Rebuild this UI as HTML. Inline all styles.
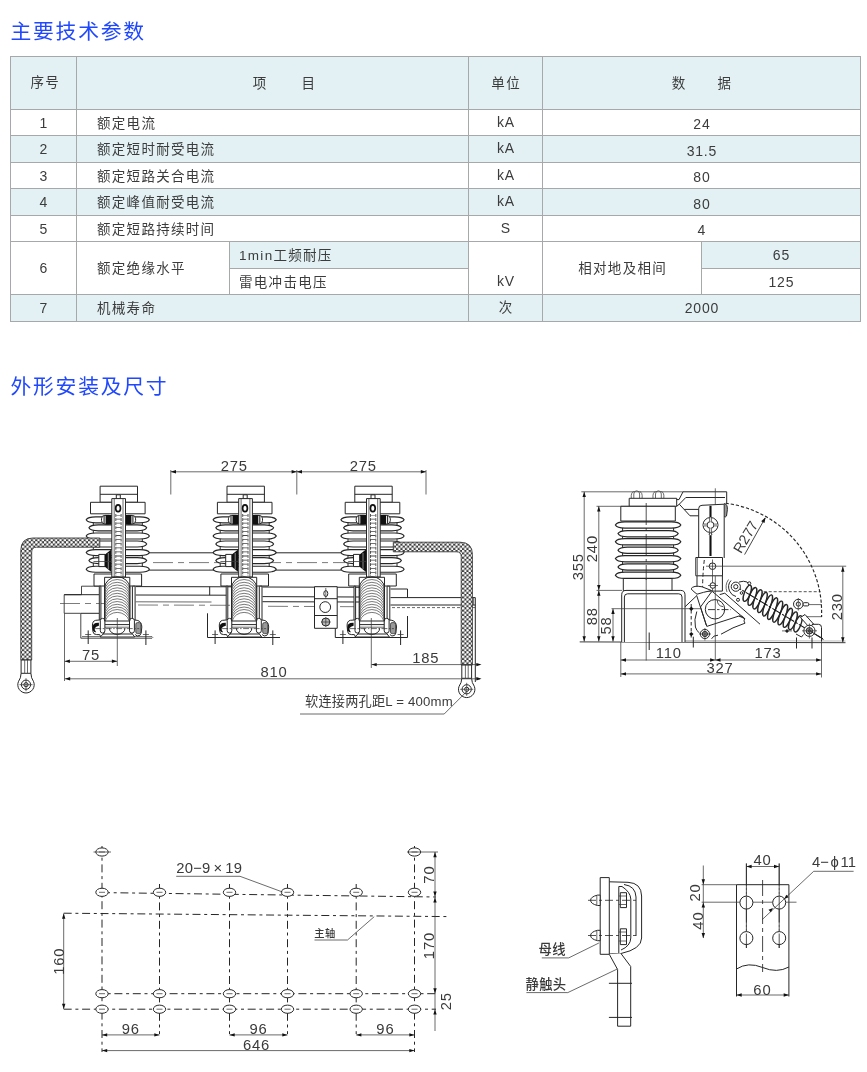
<!DOCTYPE html>
<html lang="zh-CN">
<head>
<meta charset="utf-8">
<title>主要技术参数</title>
<style>
html,body{margin:0;padding:0;background:#fff;}
body{width:867px;height:1072px;position:relative;overflow:hidden;font-family:"Liberation Sans","Noto Sans CJK SC",sans-serif;color:#3c3c3c;}
h2{position:absolute;margin:0;left:10.5px;font-size:20.8px;line-height:26px;font-weight:400;color:#2048ff;white-space:nowrap;letter-spacing:1.75px;}
#t1{top:18.5px;}
#t2{top:373.7px;}
.tbl{position:absolute;left:10px;top:56px;width:850px;height:266px;}
.c{position:absolute;box-sizing:border-box;border:1px solid #a6a8aa;font-size:13.5px;letter-spacing:1.3px;white-space:nowrap;display:flex;align-items:center;justify-content:center;font-weight:400;}
.c.b{background:#e3f1f4;}
.c.l{justify-content:flex-start;}
.c span{display:block;position:relative;}
.c span.t{margin-right:-1.3px;margin-top:-2px;}
.c span.n{margin-right:-0.8px;}
.n{font-size:14px;letter-spacing:0.8px;font-weight:400;}
svg{position:absolute;left:0;top:0;}
#sheet{position:absolute;left:0;top:0;width:867px;height:1072px;will-change:transform;}
</style>
</head>
<body>
<div id="sheet">
<h2 id="t1">主要技术参数</h2>
<div class="tbl">
<div class="c b" style="left:0px;top:0px;width:67px;height:54px;"><span class="t" style="top:-0.7px;left:1.2px">序号</span></div>
<div class="c b" style="left:66px;top:0px;width:393px;height:54px;"><span class="t" style="top:0px;left:11.3px"><b style="font-weight:inherit;word-spacing:28.9px">项 目</b></span></div>
<div class="c b" style="left:458px;top:0px;width:75px;height:54px;"><span class="t" style="top:0px;left:0px">单位</span></div>
<div class="c b" style="left:532px;top:0px;width:319px;height:54px;"><span class="t" style="top:0px;left:0px"><b style="font-weight:inherit;word-spacing:25.9px">数 据</b></span></div>
<div class="c" style="left:0px;top:53px;width:67px;height:27px;"><span class="n" style="top:0px;left:0px">1</span></div>
<div class="c l" style="left:66px;top:53px;width:393px;height:27px;padding-left:20px;"><span class="t" style="top:0px;left:0px">额定电流</span></div>
<div class="c" style="left:458px;top:53px;width:75px;height:27px;"><span class="n" style="top:-1px;left:0px">kA</span></div>
<div class="c" style="left:532px;top:53px;width:319px;height:27px;"><span class="n" style="top:1.5px;left:0px">24</span></div>
<div class="c b" style="left:0px;top:79px;width:67px;height:28px;"><span class="n" style="top:0px;left:0px">2</span></div>
<div class="c b l" style="left:66px;top:79px;width:393px;height:28px;padding-left:20px;"><span class="t" style="top:0px;left:0px">额定短时耐受电流</span></div>
<div class="c b" style="left:458px;top:79px;width:75px;height:28px;"><span class="n" style="top:-1px;left:0px">kA</span></div>
<div class="c b" style="left:532px;top:79px;width:319px;height:28px;"><span class="n" style="top:1.5px;left:0px">31.5</span></div>
<div class="c" style="left:0px;top:106px;width:67px;height:27px;"><span class="n" style="top:0px;left:0px">3</span></div>
<div class="c l" style="left:66px;top:106px;width:393px;height:27px;padding-left:20px;"><span class="t" style="top:0px;left:0px">额定短路关合电流</span></div>
<div class="c" style="left:458px;top:106px;width:75px;height:27px;"><span class="n" style="top:-1px;left:0px">kA</span></div>
<div class="c" style="left:532px;top:106px;width:319px;height:27px;"><span class="n" style="top:1.5px;left:0px">80</span></div>
<div class="c b" style="left:0px;top:132px;width:67px;height:28px;"><span class="n" style="top:0px;left:0px">4</span></div>
<div class="c b l" style="left:66px;top:132px;width:393px;height:28px;padding-left:20px;"><span class="t" style="top:0px;left:0px">额定峰值耐受电流</span></div>
<div class="c b" style="left:458px;top:132px;width:75px;height:28px;"><span class="n" style="top:-1px;left:0px">kA</span></div>
<div class="c b" style="left:532px;top:132px;width:319px;height:28px;"><span class="n" style="top:1.5px;left:0px">80</span></div>
<div class="c" style="left:0px;top:159px;width:67px;height:27px;"><span class="n" style="top:0px;left:0px">5</span></div>
<div class="c l" style="left:66px;top:159px;width:393px;height:27px;padding-left:20px;"><span class="t" style="top:0px;left:0px">额定短路持续时间</span></div>
<div class="c" style="left:458px;top:159px;width:75px;height:27px;"><span class="n" style="top:-1px;left:0px">S</span></div>
<div class="c" style="left:532px;top:159px;width:319px;height:27px;"><span class="n" style="top:1.5px;left:0px">4</span></div>
<div class="c" style="left:0px;top:185px;width:67px;height:54px;"><span class="n" style="top:0px;left:0px">6</span></div>
<div class="c l" style="left:66px;top:185px;width:154px;height:54px;padding-left:20px;"><span class="t" style="top:0px;left:0px">额定绝缘水平</span></div>
<div class="c b l" style="left:219px;top:185px;width:240px;height:28px;padding-left:9px;"><span class="t" style="top:0px;left:0px">1min工频耐压</span></div>
<div class="c l" style="left:219px;top:212px;width:240px;height:27px;padding-left:9px;"><span class="t" style="top:0px;left:0px">雷电冲击电压</span></div>
<div class="c" style="left:458px;top:185px;width:75px;height:54px;"><span class="n" style="top:13px;left:0px">kV</span></div>
<div class="c" style="left:532px;top:185px;width:160px;height:54px;"><span class="t" style="top:0px;left:0px">相对地及相间</span></div>
<div class="c b" style="left:691px;top:185px;width:160px;height:28px;"><span class="n" style="top:0px;left:0px">65</span></div>
<div class="c" style="left:691px;top:212px;width:160px;height:27px;"><span class="n" style="top:0px;left:0px">125</span></div>
<div class="c b" style="left:0px;top:238px;width:67px;height:28px;"><span class="n" style="top:0px;left:0px">7</span></div>
<div class="c b l" style="left:66px;top:238px;width:393px;height:28px;padding-left:20px;"><span class="t" style="top:0px;left:0px">机械寿命</span></div>
<div class="c b" style="left:458px;top:238px;width:75px;height:28px;"><span class="t" style="top:-1px;left:0px">次</span></div>
<div class="c b" style="left:532px;top:238px;width:319px;height:28px;"><span class="n" style="top:0px;left:0px">2000</span></div>
</div>
<h2 id="t2">外形安装及尺寸</h2>
<svg width="867" height="1072" viewBox="0 0 867 1072">
<style>
.k{fill:none;stroke:#262626;stroke-width:1;stroke-linecap:butt;stroke-linejoin:round}
.w{fill:#fff;stroke:#262626;stroke-width:1;stroke-linejoin:round}
.t{fill:none;stroke:#3a3a3a;stroke-width:0.75}
.d{fill:none;stroke:#444;stroke-width:0.7;stroke-dasharray:20 5 6 5}
.dd{fill:none;stroke:#444;stroke-width:0.8;stroke-dasharray:3 2}
.f{fill:#111;stroke:none}
text{font-family:"Liberation Sans","Noto Sans CJK SC",sans-serif;fill:#3a3a3a;font-size:14.8px;letter-spacing:0.8px;}
</style>
<defs>
<pattern id="braid" width="4.4" height="4.4" patternUnits="userSpaceOnUse">
<rect width="4.4" height="4.4" fill="#3d3d3d"/>
<circle cx="1.1" cy="1.1" r="1.28" fill="#fff"/>
<circle cx="3.3" cy="3.3" r="1.28" fill="#fff"/>
</pattern>
</defs>
<path class="k" d="M149 552.8L341 552.8"/>
<path class="k" d="M149 570.1L341 570.1"/>
<path class="d" d="M153 562.6L345 562.6"/>
<path class="k" d="M99 586.2L81.5 586.2L81.5 594.7L64.2 594.7L64.2 613.3L80.8 613.3L80.8 638.2L152 638.2" style="stroke-width:0.85"/>
<path class="t" d="M82 636.6L152 636.6Q153.6 637.4 152 638.2"/>
<path class="k" d="M64.2 594.7L99 594.7"/>
<path class="k" d="M81 613.3L99 613.3"/>
<path class="d" d="M60 603.5L104 603.5"/>
<path class="k" d="M135.8 586.6L232 586.8"/>
<path class="k" d="M135.8 595L227 595.2"/>
<path class="t" d="M135.8 601.8L211.5 602"/>
<path class="k" d="M209.7 586.7L209.7 595.2"/>
<path class="d" d="M138 605L232 605.3"/>
<path class="k" d="M262.5 587L359 587.3"/>
<path class="k" d="M262.5 596.6L359 597"/>
<path class="k" d="M262.5 601.7L359 602"/>
<path class="d" d="M268 606.3L354 606.7"/>
<path class="k" d="M390.5 589L407.5 589L407.5 597.6"/>
<path class="k" d="M390.5 597.6L475.3 597.6"/>
<path class="k" d="M390.5 605L475.3 605"/>
<path class="dd" d="M392 607.6L476 607.6"/>
<path class="k" d="M475.3 597.6L475.3 682"/>
<path class="t" d="M473.6 598L473.6 605"/>
<path class="k" d="M207.5 613.3L207.5 637.5L280 637.5"/>
<path class="k" d="M335.3 613.3L335.3 637.5L407.5 637.5L407.5 616"/>
<rect class="w" x="94" y="574" width="47.6" height="12"/><rect class="w" x="100.1" y="486.2" width="37.4" height="16.1"/><path class="k" d="M100.1 494.3L137.5 494.3"/><rect class="w" x="90.5" y="502.3" width="54.6" height="11.5"/><rect class="w" x="93.3" y="519.8" width="49" height="49.4"/><path class="w" d="M86.2 519.8Q87.7 516.8 95.7 516.8L139.9 516.8Q147.9 516.8 149.4 519.8Q147.9 522.8 139.9 522.8L95.7 522.8Q87.7 522.8 86.2 519.8Z" style="stroke-width:1.15"/><path class="w" d="M88.9 527.8Q90.4 524.8 98.4 524.8L137.2 524.8Q145.2 524.8 146.7 527.8Q145.2 530.8 137.2 530.8L98.4 530.8Q90.4 530.8 88.9 527.8Z" style="stroke-width:1.15"/><path class="w" d="M86.2 536Q87.7 533 95.7 533L139.9 533Q147.9 533 149.4 536Q147.9 539 139.9 539L95.7 539Q87.7 539 86.2 536Z" style="stroke-width:1.15"/><path class="w" d="M88.9 544Q90.4 541 98.4 541L137.2 541Q145.2 541 146.7 544Q145.2 547 137.2 547L98.4 547Q90.4 547 88.9 544Z" style="stroke-width:1.15"/><path class="w" d="M86.2 552.6Q87.7 549.6 95.7 549.6L139.9 549.6Q147.9 549.6 149.4 552.6Q147.9 555.6 139.9 555.6L95.7 555.6Q87.7 555.6 86.2 552.6Z" style="stroke-width:1.15"/><path class="w" d="M88.9 560.6Q90.4 557.6 98.4 557.6L137.2 557.6Q145.2 557.6 146.7 560.6Q145.2 563.6 137.2 563.6L98.4 563.6Q90.4 563.6 88.9 560.6Z" style="stroke-width:1.15"/><path class="w" d="M86.2 569.2Q87.7 566.2 95.7 566.2L139.9 566.2Q147.9 566.2 149.4 569.2Q147.9 572.2 139.9 572.2L95.7 572.2Q87.7 572.2 86.2 569.2Z" style="stroke-width:1.15"/><rect class="w" x="101.5" y="515.4" width="10.6" height="8.6" rx="3.4"/><rect class="w" x="125" y="515.4" width="10.6" height="8.6" rx="3.4"/><rect class="f" x="105.6" y="515" width="6.5" height="9.4"/><rect class="f" x="125" y="515" width="6.4" height="9.4"/><path class="k" d="M104.1 515.6L104.1 523.8" style="stroke-width:1.1"/><path class="k" d="M132.9 515.6L132.9 523.8" style="stroke-width:1.1"/><rect class="w" x="98.8" y="554.4" width="6.2" height="12.2"/><path class="f" d="M111.3 549.5L111.3 572L104.9 566.8L104.9 554.6Z"/><path class="k" d="M108.3 553L108.3 569" style="stroke:#fff;stroke-width:0.5"/><rect class="w" x="116.3" y="494.8" width="4" height="4.2"/><rect class="w" x="111.8" y="498.6" width="13.7" height="78.4"/><path class="t" d="M114.2 499L114.2 577"/><path class="t" d="M123 499L123 577"/><path class="k" d="M115.8 514L115.8 576" style="stroke-dasharray:2.9 1.2;stroke-width:0.8"/><path class="k" d="M121.1 514L121.1 576" style="stroke-dasharray:2.9 1.2;stroke-width:0.8"/><path class="k" d="M118.4 515L118.4 576" style="stroke-dasharray:0.8 3.3;stroke-width:4.6;stroke-dashoffset:0.4;stroke:#444"/><path class="t" d="M93.5 561.5L111.5 561.5"/><ellipse class="k" cx="118.1" cy="508.3" rx="2.4" ry="3.4" style="stroke:#111;stroke-width:1.7"/><rect class="w" x="99.3" y="586.2" width="1.6" height="34.8"/><rect class="w" x="132.4" y="586.2" width="2.7" height="34.8"/><path class="k" d="M104.6 586.2L104.6 621"/><path class="k" d="M129.8 586.2L129.8 621"/><path class="w" d="M104.2 619.6L95.7 620.3Q92.2 621 92.4 626L92.9 631.5Q93.2 634.6 96.7 634.6L99.7 634.6L100.7 636.8"/><path class="w" d="M130.2 619.6L137.2 620.3Q141.8 621.5 141.8 627L141.2 633Q140.5 636.3 137.2 636L135.2 634.5"/><rect class="k" x="135.8" y="622.6" width="5" height="11" rx="1.6" style="fill:#9a9a9a;stroke-width:0.7"/><path class="w" d="M104.2 620L104.2 633L100.2 637L134.7 637L130.2 631L130.2 620Z"/><path class="k" d="M104.2 624.6L130.2 624.6"/><path class="t" d="M104.2 627.2L130.2 627.2"/><path class="k" d="M102.7 634L132.2 634"/><path class="k" d="M109.4 628.2A7.8 6.2 0 0 0 125 628.2"/><rect class="w" x="100.3" y="618.4" width="4.6" height="14.6" rx="2.2"/><rect class="w" x="129.5" y="618.4" width="4.9" height="14.6" rx="2.2"/><path class="t" d="M95.2 628.6L139.2 628.6" style="stroke-dasharray:6 1.5 1.5 1.5"/><path class="f" d="M98.9 622.8Q92.2 622.5 92.6 628Q92.6 632.5 96.2 632.3Q94.2 630 94.8 628.3Q95.7 626.3 98.9 625.8Z"/><rect class="w" x="104.6" y="577.3" width="25.2" height="43.7"/><path class="k" d="M104.6 588.3A12.6 11.5 0 0 1 129.8 588.3" style="stroke-width:1"/><path class="k" d="M104.8 591A12.4 11.5 0 0 1 129.6 591" style="stroke-width:0.62"/><path class="k" d="M104.8 593.8A12.4 11.5 0 0 1 129.6 593.8" style="stroke-width:0.62"/><path class="k" d="M104.8 596.5A12.4 11.5 0 0 1 129.6 596.5" style="stroke-width:0.62"/><path class="k" d="M104.8 599.3A12.4 11.5 0 0 1 129.6 599.3" style="stroke-width:0.62"/><path class="k" d="M104.8 602A12.4 11.5 0 0 1 129.6 602" style="stroke-width:0.62"/><path class="k" d="M104.8 604.8A12.4 11.5 0 0 1 129.6 604.8" style="stroke-width:0.62"/><path class="k" d="M104.8 607.5A12.4 11.5 0 0 1 129.6 607.5" style="stroke-width:0.62"/><path class="k" d="M104.8 610.3A12.4 11.5 0 0 1 129.6 610.3" style="stroke-width:0.62"/><path class="k" d="M104.8 613A12.4 11.5 0 0 1 129.6 613" style="stroke-width:0.62"/><path class="k" d="M104.8 615.8A12.4 11.5 0 0 1 129.6 615.8" style="stroke-width:0.62"/><path class="k" d="M104.8 618.5A12.4 11.5 0 0 1 129.6 618.5" style="stroke-width:0.62"/><path class="k" d="M104.8 621A12.4 11.5 0 0 1 129.6 621" style="stroke-width:0.62"/><path class="k" d="M105.2 621A12.4 11.5 0 0 1 129.2 621" style="stroke-width:0.62"/><path class="k" d="M88.2 630.4L88.2 644"/><path class="k" d="M145.9 630.4L145.9 645"/><path class="t" d="M85.2 634.5L91.2 634.5"/><path class="t" d="M142.9 634.5L148.9 634.5"/>
<rect class="w" x="220.9" y="574" width="47.6" height="12"/><rect class="w" x="227" y="486.2" width="37.4" height="16.1"/><path class="k" d="M227 494.3L264.4 494.3"/><rect class="w" x="217.4" y="502.3" width="54.6" height="11.5"/><rect class="w" x="220.2" y="519.8" width="49" height="49.4"/><path class="w" d="M213.1 519.8Q214.6 516.8 222.6 516.8L266.8 516.8Q274.8 516.8 276.3 519.8Q274.8 522.8 266.8 522.8L222.6 522.8Q214.6 522.8 213.1 519.8Z" style="stroke-width:1.15"/><path class="w" d="M215.8 527.8Q217.3 524.8 225.3 524.8L264.1 524.8Q272.1 524.8 273.6 527.8Q272.1 530.8 264.1 530.8L225.3 530.8Q217.3 530.8 215.8 527.8Z" style="stroke-width:1.15"/><path class="w" d="M213.1 536Q214.6 533 222.6 533L266.8 533Q274.8 533 276.3 536Q274.8 539 266.8 539L222.6 539Q214.6 539 213.1 536Z" style="stroke-width:1.15"/><path class="w" d="M215.8 544Q217.3 541 225.3 541L264.1 541Q272.1 541 273.6 544Q272.1 547 264.1 547L225.3 547Q217.3 547 215.8 544Z" style="stroke-width:1.15"/><path class="w" d="M213.1 552.6Q214.6 549.6 222.6 549.6L266.8 549.6Q274.8 549.6 276.3 552.6Q274.8 555.6 266.8 555.6L222.6 555.6Q214.6 555.6 213.1 552.6Z" style="stroke-width:1.15"/><path class="w" d="M215.8 560.6Q217.3 557.6 225.3 557.6L264.1 557.6Q272.1 557.6 273.6 560.6Q272.1 563.6 264.1 563.6L225.3 563.6Q217.3 563.6 215.8 560.6Z" style="stroke-width:1.15"/><path class="w" d="M213.1 569.2Q214.6 566.2 222.6 566.2L266.8 566.2Q274.8 566.2 276.3 569.2Q274.8 572.2 266.8 572.2L222.6 572.2Q214.6 572.2 213.1 569.2Z" style="stroke-width:1.15"/><rect class="w" x="228.4" y="515.4" width="10.6" height="8.6" rx="3.4"/><rect class="w" x="251.9" y="515.4" width="10.6" height="8.6" rx="3.4"/><rect class="f" x="232.5" y="515" width="6.5" height="9.4"/><rect class="f" x="251.9" y="515" width="6.4" height="9.4"/><path class="k" d="M231 515.6L231 523.8" style="stroke-width:1.1"/><path class="k" d="M259.8 515.6L259.8 523.8" style="stroke-width:1.1"/><rect class="w" x="225.7" y="554.4" width="6.2" height="12.2"/><path class="f" d="M238.2 549.5L238.2 572L231.8 566.8L231.8 554.6Z"/><path class="k" d="M235.2 553L235.2 569" style="stroke:#fff;stroke-width:0.5"/><rect class="w" x="243.2" y="494.8" width="4" height="4.2"/><rect class="w" x="238.7" y="498.6" width="13.7" height="78.4"/><path class="t" d="M241.1 499L241.1 577"/><path class="t" d="M249.9 499L249.9 577"/><path class="k" d="M242.7 514L242.7 576" style="stroke-dasharray:2.9 1.2;stroke-width:0.8"/><path class="k" d="M248 514L248 576" style="stroke-dasharray:2.9 1.2;stroke-width:0.8"/><path class="k" d="M245.3 515L245.3 576" style="stroke-dasharray:0.8 3.3;stroke-width:4.6;stroke-dashoffset:0.4;stroke:#444"/><path class="t" d="M220.4 561.5L238.4 561.5"/><ellipse class="k" cx="245" cy="508.3" rx="2.4" ry="3.4" style="stroke:#111;stroke-width:1.7"/><rect class="w" x="226.2" y="586.2" width="1.6" height="34.8"/><rect class="w" x="259.3" y="586.2" width="2.7" height="34.8"/><path class="k" d="M231.5 586.2L231.5 621"/><path class="k" d="M256.7 586.2L256.7 621"/><path class="w" d="M231.1 619.6L222.6 620.3Q219.1 621 219.3 626L219.8 631.5Q220.1 634.6 223.6 634.6L226.6 634.6L227.6 636.8"/><path class="w" d="M257.1 619.6L264.1 620.3Q268.7 621.5 268.7 627L268.1 633Q267.4 636.3 264.1 636L262.1 634.5"/><rect class="k" x="262.7" y="622.6" width="5" height="11" rx="1.6" style="fill:#9a9a9a;stroke-width:0.7"/><path class="w" d="M231.1 620L231.1 633L227.1 637L261.6 637L257.1 631L257.1 620Z"/><path class="k" d="M231.1 624.6L257.1 624.6"/><path class="t" d="M231.1 627.2L257.1 627.2"/><path class="k" d="M229.6 634L259.1 634"/><path class="k" d="M236.3 628.2A7.8 6.2 0 0 0 251.9 628.2"/><rect class="w" x="227.2" y="618.4" width="4.6" height="14.6" rx="2.2"/><rect class="w" x="256.4" y="618.4" width="4.9" height="14.6" rx="2.2"/><path class="t" d="M222.1 628.6L266.1 628.6" style="stroke-dasharray:6 1.5 1.5 1.5"/><path class="f" d="M225.8 622.8Q219.1 622.5 219.5 628Q219.5 632.5 223.1 632.3Q221.1 630 221.7 628.3Q222.6 626.3 225.8 625.8Z"/><rect class="w" x="231.5" y="577.3" width="25.2" height="43.7"/><path class="k" d="M231.5 588.3A12.6 11.5 0 0 1 256.7 588.3" style="stroke-width:1"/><path class="k" d="M231.7 591A12.4 11.5 0 0 1 256.5 591" style="stroke-width:0.62"/><path class="k" d="M231.7 593.8A12.4 11.5 0 0 1 256.5 593.8" style="stroke-width:0.62"/><path class="k" d="M231.7 596.5A12.4 11.5 0 0 1 256.5 596.5" style="stroke-width:0.62"/><path class="k" d="M231.7 599.3A12.4 11.5 0 0 1 256.5 599.3" style="stroke-width:0.62"/><path class="k" d="M231.7 602A12.4 11.5 0 0 1 256.5 602" style="stroke-width:0.62"/><path class="k" d="M231.7 604.8A12.4 11.5 0 0 1 256.5 604.8" style="stroke-width:0.62"/><path class="k" d="M231.7 607.5A12.4 11.5 0 0 1 256.5 607.5" style="stroke-width:0.62"/><path class="k" d="M231.7 610.3A12.4 11.5 0 0 1 256.5 610.3" style="stroke-width:0.62"/><path class="k" d="M231.7 613A12.4 11.5 0 0 1 256.5 613" style="stroke-width:0.62"/><path class="k" d="M231.7 615.8A12.4 11.5 0 0 1 256.5 615.8" style="stroke-width:0.62"/><path class="k" d="M231.7 618.5A12.4 11.5 0 0 1 256.5 618.5" style="stroke-width:0.62"/><path class="k" d="M231.7 621A12.4 11.5 0 0 1 256.5 621" style="stroke-width:0.62"/><path class="k" d="M232.1 621A12.4 11.5 0 0 1 256.1 621" style="stroke-width:0.62"/><path class="k" d="M215.1 630.4L215.1 644"/><path class="k" d="M272.8 630.4L272.8 645"/><path class="t" d="M212.1 634.5L218.1 634.5"/><path class="t" d="M269.8 634.5L275.8 634.5"/>
<rect class="w" x="348.7" y="574" width="47.6" height="12"/><rect class="w" x="354.8" y="486.2" width="37.4" height="16.1"/><path class="k" d="M354.8 494.3L392.2 494.3"/><rect class="w" x="345.2" y="502.3" width="54.6" height="11.5"/><rect class="w" x="348" y="519.8" width="49" height="49.4"/><path class="w" d="M340.9 519.8Q342.4 516.8 350.4 516.8L394.6 516.8Q402.6 516.8 404.1 519.8Q402.6 522.8 394.6 522.8L350.4 522.8Q342.4 522.8 340.9 519.8Z" style="stroke-width:1.15"/><path class="w" d="M343.6 527.8Q345.1 524.8 353.1 524.8L391.9 524.8Q399.9 524.8 401.4 527.8Q399.9 530.8 391.9 530.8L353.1 530.8Q345.1 530.8 343.6 527.8Z" style="stroke-width:1.15"/><path class="w" d="M340.9 536Q342.4 533 350.4 533L394.6 533Q402.6 533 404.1 536Q402.6 539 394.6 539L350.4 539Q342.4 539 340.9 536Z" style="stroke-width:1.15"/><path class="w" d="M343.6 544Q345.1 541 353.1 541L391.9 541Q399.9 541 401.4 544Q399.9 547 391.9 547L353.1 547Q345.1 547 343.6 544Z" style="stroke-width:1.15"/><path class="w" d="M340.9 552.6Q342.4 549.6 350.4 549.6L394.6 549.6Q402.6 549.6 404.1 552.6Q402.6 555.6 394.6 555.6L350.4 555.6Q342.4 555.6 340.9 552.6Z" style="stroke-width:1.15"/><path class="w" d="M343.6 560.6Q345.1 557.6 353.1 557.6L391.9 557.6Q399.9 557.6 401.4 560.6Q399.9 563.6 391.9 563.6L353.1 563.6Q345.1 563.6 343.6 560.6Z" style="stroke-width:1.15"/><path class="w" d="M340.9 569.2Q342.4 566.2 350.4 566.2L394.6 566.2Q402.6 566.2 404.1 569.2Q402.6 572.2 394.6 572.2L350.4 572.2Q342.4 572.2 340.9 569.2Z" style="stroke-width:1.15"/><rect class="w" x="356.2" y="515.4" width="10.6" height="8.6" rx="3.4"/><rect class="w" x="379.7" y="515.4" width="10.6" height="8.6" rx="3.4"/><rect class="f" x="360.3" y="515" width="6.5" height="9.4"/><rect class="f" x="379.7" y="515" width="6.4" height="9.4"/><path class="k" d="M358.8 515.6L358.8 523.8" style="stroke-width:1.1"/><path class="k" d="M387.6 515.6L387.6 523.8" style="stroke-width:1.1"/><rect class="w" x="353.5" y="554.4" width="6.2" height="12.2"/><path class="f" d="M366 549.5L366 572L359.6 566.8L359.6 554.6Z"/><path class="k" d="M363 553L363 569" style="stroke:#fff;stroke-width:0.5"/><rect class="w" x="371" y="494.8" width="4" height="4.2"/><rect class="w" x="366.5" y="498.6" width="13.7" height="78.4"/><path class="t" d="M368.9 499L368.9 577"/><path class="t" d="M377.7 499L377.7 577"/><path class="k" d="M370.5 514L370.5 576" style="stroke-dasharray:2.9 1.2;stroke-width:0.8"/><path class="k" d="M375.8 514L375.8 576" style="stroke-dasharray:2.9 1.2;stroke-width:0.8"/><path class="k" d="M373.1 515L373.1 576" style="stroke-dasharray:0.8 3.3;stroke-width:4.6;stroke-dashoffset:0.4;stroke:#444"/><path class="t" d="M348.2 561.5L366.2 561.5"/><ellipse class="k" cx="372.8" cy="508.3" rx="2.4" ry="3.4" style="stroke:#111;stroke-width:1.7"/><rect class="w" x="354" y="586.2" width="1.6" height="34.8"/><rect class="w" x="387.1" y="586.2" width="2.7" height="34.8"/><path class="k" d="M359.3 586.2L359.3 621"/><path class="k" d="M384.5 586.2L384.5 621"/><path class="w" d="M358.9 619.6L350.4 620.3Q346.9 621 347.1 626L347.6 631.5Q347.9 634.6 351.4 634.6L354.4 634.6L355.4 636.8"/><path class="w" d="M384.9 619.6L391.9 620.3Q396.5 621.5 396.5 627L395.9 633Q395.2 636.3 391.9 636L389.9 634.5"/><rect class="k" x="390.5" y="622.6" width="5" height="11" rx="1.6" style="fill:#9a9a9a;stroke-width:0.7"/><path class="w" d="M358.9 620L358.9 633L354.9 637L389.4 637L384.9 631L384.9 620Z"/><path class="k" d="M358.9 624.6L384.9 624.6"/><path class="t" d="M358.9 627.2L384.9 627.2"/><path class="k" d="M357.4 634L386.9 634"/><path class="k" d="M364.1 628.2A7.8 6.2 0 0 0 379.7 628.2"/><rect class="w" x="355" y="618.4" width="4.6" height="14.6" rx="2.2"/><rect class="w" x="384.2" y="618.4" width="4.9" height="14.6" rx="2.2"/><path class="t" d="M349.9 628.6L393.9 628.6" style="stroke-dasharray:6 1.5 1.5 1.5"/><path class="f" d="M353.6 622.8Q346.9 622.5 347.3 628Q347.3 632.5 350.9 632.3Q348.9 630 349.5 628.3Q350.4 626.3 353.6 625.8Z"/><rect class="w" x="359.3" y="577.3" width="25.2" height="43.7"/><path class="k" d="M359.3 588.3A12.6 11.5 0 0 1 384.5 588.3" style="stroke-width:1"/><path class="k" d="M359.5 591A12.4 11.5 0 0 1 384.3 591" style="stroke-width:0.62"/><path class="k" d="M359.5 593.8A12.4 11.5 0 0 1 384.3 593.8" style="stroke-width:0.62"/><path class="k" d="M359.5 596.5A12.4 11.5 0 0 1 384.3 596.5" style="stroke-width:0.62"/><path class="k" d="M359.5 599.3A12.4 11.5 0 0 1 384.3 599.3" style="stroke-width:0.62"/><path class="k" d="M359.5 602A12.4 11.5 0 0 1 384.3 602" style="stroke-width:0.62"/><path class="k" d="M359.5 604.8A12.4 11.5 0 0 1 384.3 604.8" style="stroke-width:0.62"/><path class="k" d="M359.5 607.5A12.4 11.5 0 0 1 384.3 607.5" style="stroke-width:0.62"/><path class="k" d="M359.5 610.3A12.4 11.5 0 0 1 384.3 610.3" style="stroke-width:0.62"/><path class="k" d="M359.5 613A12.4 11.5 0 0 1 384.3 613" style="stroke-width:0.62"/><path class="k" d="M359.5 615.8A12.4 11.5 0 0 1 384.3 615.8" style="stroke-width:0.62"/><path class="k" d="M359.5 618.5A12.4 11.5 0 0 1 384.3 618.5" style="stroke-width:0.62"/><path class="k" d="M359.5 621A12.4 11.5 0 0 1 384.3 621" style="stroke-width:0.62"/><path class="k" d="M359.9 621A12.4 11.5 0 0 1 383.9 621" style="stroke-width:0.62"/><path class="k" d="M342.9 630.4L342.9 644"/><path class="k" d="M400.6 630.4L400.6 645"/><path class="t" d="M339.9 634.5L345.9 634.5"/><path class="t" d="M397.6 634.5L403.6 634.5"/>
<path d="M99.8 538L33 538Q20.8 538 20.8 550.5L20.8 660L31.7 660L31.7 552Q31.7 547.2 36.5 547.2L99.8 547.2Z" fill="url(#braid)" stroke="#3a3a3a" stroke-width="0.9" stroke-linejoin="round"/>
<path class="w" d="M21.1 660L21.1 673.3Q21 678 18.4 681.7A8.2 8.2 0 1 0 33.6 681.7Q31 678 30.9 673.3L30.9 660Z"/><path class="k" d="M21.1 673.3L30.9 673.3"/><path class="t" d="M24.7 660L24.7 673"/><path class="t" d="M27.5 660L27.5 673"/><circle class="k" cx="26" cy="684.7" r="4.6"/><circle class="k" cx="26" cy="684.7" r="2.1"/><path class="t" d="M19.5 684.7L32.5 684.7"/><path class="t" d="M26 678.2L26 691.2"/>
<path d="M393.3 542.2L460 542.2Q472.4 542.2 472.4 554.5L472.4 665L461.2 665L461.2 556.5Q461.2 551.8 456.5 551.8L393.3 551.8Z" fill="url(#braid)" stroke="#3a3a3a" stroke-width="0.9" stroke-linejoin="round"/>
<path class="w" d="M461.8 665L461.8 678.3Q461.7 682.6 459.1 686.3A8.2 8.2 0 1 0 474.3 686.3Q471.7 682.6 471.6 678.3L471.6 665Z"/><path class="k" d="M461.8 678.3L471.6 678.3"/><path class="t" d="M465.4 665L465.4 678"/><path class="t" d="M468.2 665L468.2 678"/><circle class="k" cx="466.7" cy="689.3" r="4.6"/><circle class="k" cx="466.7" cy="689.3" r="2.1"/><path class="t" d="M460.2 689.3L473.2 689.3"/><path class="t" d="M466.7 682.8L466.7 695.8"/>
<rect class="w" x="314.5" y="586.7" width="22.7" height="41.6"/>
<path class="k" d="M314.5 598.7L337.2 598.7"/>
<path class="k" d="M314.5 615.5L337.2 615.5"/>
<ellipse class="k" cx="325.8" cy="593.6" rx="2" ry="3"/>
<path class="t" d="M325.8 588L325.8 598.7"/>
<circle class="k" cx="325.2" cy="607.1" r="5.4"/>
<circle class="k" cx="325.8" cy="622" r="4" style="fill:#bbb"/>
<path class="t" d="M321 622L330.6 622"/>
<path class="t" d="M325.8 617.2L325.8 626.8"/>
<path class="t" d="M170.8 470L170.8 494.5"/>
<path class="t" d="M296.8 470L296.8 494.5"/>
<path class="t" d="M426 470L426 494.5"/>
<path class="t" d="M170.8 471.8L296.8 471.8"/><path class="f" d="M170.8 471.8L176.0 470.1L176.0 473.5Z"/><path class="f" d="M296.8 471.8L291.6 473.5L291.6 470.1Z"/>
<path class="t" d="M296.8 471.8L426 471.8"/><path class="f" d="M296.8 471.8L302.0 470.1L302.0 473.5Z"/><path class="f" d="M426 471.8L420.8 473.5L420.8 470.1Z"/>
<text x="234.3" y="470.6" text-anchor="middle">275</text>
<text x="363.2" y="470.6" text-anchor="middle">275</text>
<path class="t" d="M64.5 613.3L64.5 681"/>
<path class="t" d="M117.3 618L117.3 666"/>
<path class="t" d="M64.7 661.3L117.1 661.3"/><path class="f" d="M64.7 661.3L69.9 659.6L69.9 663.0Z"/><path class="f" d="M117.1 661.3L111.9 663.0L111.9 659.6Z"/>
<text x="91" y="660.2" text-anchor="middle">75</text>
<path class="t" d="M65 678.8L480 678.8"/>
<path class="f" d="M65 678.8L70.2 677.1L70.2 680.5Z"/>
<path class="f" d="M481.5 678.8L476.3 680.5L476.3 677.1Z"/>
<text x="274" y="677.1" text-anchor="middle">810</text>
<path class="t" d="M371.3 618L371.3 668"/>
<path class="t" d="M371.5 664.6L480 664.6"/>
<path class="f" d="M371.5 664.6L376.7 662.9L376.7 666.3Z"/>
<path class="f" d="M481.5 664.6L476.3 666.3L476.3 662.9Z"/>
<text x="425.8" y="663.2" text-anchor="middle">185</text>
<path class="t" d="M300 714L444.2 714L466.7 691.5"/>
<text x="305" y="706.3" text-anchor="start" style="font-size:13.2px;letter-spacing:0.2px">软连接两孔距L = 400mm</text>
<path class="t" d="M581.3 491.8L683 491.8"/>
<path class="t" d="M596.5 506.3L629 506.3"/>
<path class="t" d="M596.5 590.4L622 590.4"/>
<path class="k" d="M579.7 641.9L845.5 642.7" style="stroke-width:0.9"/>
<path class="t" d="M685 640.6L845.5 641" style="stroke:#777;stroke-width:0.5"/>
<path class="t" d="M631.3 498.3Q630.7 492.5 633.7 491.5M642.1 498.3Q642.7 492.5 639.7 491.5"/>
<path class="t" d="M633.8 498.3L633.8 494Q633.8 490.8 636.7 490.8Q639.6 490.8 639.6 494L639.6 498.3"/>
<path class="t" d="M636.7 500L636.7 509.5" style="stroke-dasharray:3.5 2"/>
<path class="t" d="M653 498.3Q652.4 492.5 655.4 491.5M663.8 498.3Q664.4 492.5 661.4 491.5"/>
<path class="t" d="M655.5 498.3L655.5 494Q655.5 490.8 658.4 490.8Q661.3 490.8 661.3 494L661.3 498.3"/>
<path class="t" d="M658.4 500L658.4 509.5" style="stroke-dasharray:3.5 2"/>
<rect class="w" x="629.2" y="498.3" width="47.5" height="8"/>
<rect class="w" x="620.8" y="506.3" width="54.5" height="14.7"/>
<rect class="w" x="623.3" y="577" width="48.7" height="13.8"/>
<rect class="w" x="622.6" y="525" width="51" height="50.2"/><path class="w" d="M615.4 525Q616.9 521.9 624.9 521.9L671.3 521.9Q679.3 521.9 680.8 525Q679.3 528.1 671.3 528.1L624.9 528.1Q616.9 528.1 615.4 525Z" style="stroke-width:1.25"/><path class="w" d="M618 533.6Q619.5 530.5 627.5 530.5L668.7 530.5Q676.7 530.5 678.2 533.6Q676.7 536.8 668.7 536.8L627.5 536.8Q619.5 536.8 618 533.6Z" style="stroke-width:1.25"/><path class="w" d="M615.4 541.7Q616.9 538.6 624.9 538.6L671.3 538.6Q679.3 538.6 680.8 541.7Q679.3 544.9 671.3 544.9L624.9 544.9Q616.9 544.9 615.4 541.7Z" style="stroke-width:1.25"/><path class="w" d="M618 550.3Q619.5 547.1 627.5 547.1L668.7 547.1Q676.7 547.1 678.2 550.3Q676.7 553.4 668.7 553.4L627.5 553.4Q619.5 553.4 618 550.3Z" style="stroke-width:1.25"/><path class="w" d="M615.4 558.6Q616.9 555.5 624.9 555.5L671.3 555.5Q679.3 555.5 680.8 558.6Q679.3 561.8 671.3 561.8L624.9 561.8Q616.9 561.8 615.4 558.6Z" style="stroke-width:1.25"/><path class="w" d="M618 566.9Q619.5 563.8 627.5 563.8L668.7 563.8Q676.7 563.8 678.2 566.9Q676.7 570 668.7 570L627.5 570Q619.5 570 618 566.9Z" style="stroke-width:1.25"/><path class="w" d="M615.4 575.2Q616.9 572.1 624.9 572.1L671.3 572.1Q679.3 572.1 680.8 575.2Q679.3 578.4 671.3 578.4L624.9 578.4Q616.9 578.4 615.4 575.2Z" style="stroke-width:1.25"/>
<path class="w" d="M621.7 642L621.7 594.8Q621.7 590.4 626 590.4L680.7 590.4Q685 590.4 685 594.8L685 642"/>
<path class="k" d="M624.4 642L624.4 597Q624.4 593.8 627.6 593.8L678.8 593.8Q682 593.8 682 597L682 642"/>
<path class="t" d="M611.5 608.7L700 608.7"/>
<path class="k" d="M646.2 503L646.2 580" style="stroke-width:0.8;stroke-dasharray:22 3 3 3"/>
<path class="t" d="M646.2 578L646.2 660.5"/>
<path class="k" d="M649.2 632.5L649.2 650"/>
<path class="k" d="M693.3 636.7L693.3 647.5"/>
<path class="k" d="M796.5 637.5L796.5 648.5"/>
<path class="k" d="M812 637.5L812 648.5"/>
<path class="k" d="M676.7 499.6L679 499.6L683 491.8L726.7 491.8L726.7 503.5"/>
<path class="k" d="M676.7 506.3L679.3 504.2L685.8 497.5L725 497.5"/>
<path class="k" d="M679.3 504.2L690 515.8L698.7 515.8"/>
<path class="k" d="M684.2 509.4L698.7 509.4"/>
<path class="k" d="M724.2 503.5Q727.6 504 727.4 509.5L726.5 516Q725.5 517.5 724.2 516.5" style="fill:#999"/>
<path class="t" d="M715.3 488.3L715.3 505"/>
<rect class="w" x="697" y="575" width="25.4" height="16.1"/>
<path class="w" d="M698.7 558L698.7 508.5Q698.7 505.3 702 505.3L724.2 504.2L724.2 558"/>
<path class="k" d="M710.5 505.8L710.5 518" style="stroke:#111;stroke-width:2.1"/>
<path class="k" d="M710.5 535.5L710.5 556" style="stroke:#111;stroke-width:2.1"/>
<circle class="w" cx="710.5" cy="525" r="7.5"/>
<circle class="w" cx="710.5" cy="525" r="3.4"/>
<path class="k" d="M713.9 525L718 525" style="stroke-width:1.6;stroke:#fff"/>
<path class="k" d="M713.9 524.1L717.9 524.1" style="stroke-width:0.7"/>
<path class="k" d="M713.9 525.9L717.9 525.9" style="stroke-width:0.7"/>
<path class="k" d="M710.5 528.4L710.5 532.5" style="stroke-width:1.6;stroke:#fff"/>
<path class="k" d="M711.4 528.4L711.4 532.4" style="stroke-width:0.7"/>
<path class="k" d="M709.6 528.4L709.6 532.4" style="stroke-width:0.7"/>
<path class="k" d="M707.1 525L703 525" style="stroke-width:1.6;stroke:#fff"/>
<path class="k" d="M707.1 525.9L703.1 525.9" style="stroke-width:0.7"/>
<path class="k" d="M707.1 524.1L703.1 524.1" style="stroke-width:0.7"/>
<path class="k" d="M710.5 521.6L710.5 517.5" style="stroke-width:1.6;stroke:#fff"/>
<path class="k" d="M709.6 521.6L709.6 517.6" style="stroke-width:0.7"/>
<path class="k" d="M711.4 521.6L711.4 517.6" style="stroke-width:0.7"/>
<circle class="w" cx="710.5" cy="534.2" r="1.3"/>
<rect class="w" x="695.8" y="557.5" width="26.7" height="18.3"/>
<path class="t" d="M697.3 558L697.3 575.5"/>
<circle class="w" cx="712.5" cy="566.2" r="3.3"/>
<path class="t" d="M706 566.2L846.2 566.2"/>
<path class="t" d="M712.5 559.5L712.5 592"/>
<path class="k" d="M704.3 560Q702.5 575 702.6 591" style="stroke-dasharray:4 2.5"/>
<circle class="w" cx="712.8" cy="585.5" r="2.8"/>
<path class="t" d="M708 585.5L718 585.5"/>
<path class="k" d="M685 606.8L696.6 595.8"/>
<path class="w" d="M691 588.8Q693.5 585 702 586.8L711.5 590.5Q703 592.3 697 594.2Q694 592 691 588.8Z"/>
<path class="w" d="M712.5 591.6L744.6 618.6L739 616L706.8 626.4L700.5 607L711.4 592Z"/>
<path class="k" d="M719.7 594.6L724.8 593.2L760 624.2"/>
<path class="k" d="M696.6 595.3L706.2 625"/>
<path class="k" d="M696.8 611.5Q693.8 620 695.4 627Q696.5 631 699.5 633"/>
<path class="k" d="M739 616Q743 615.5 744.8 618.6Q743 621 745 623.2Q733 627 721 634.2"/>
<path class="k" d="M718 635.2Q713 635.3 711.6 638.8"/>
<circle class="w" cx="715" cy="609.3" r="9.7"/>
<path class="k" d="M708 609.6L731 609.6" style="stroke-width:0.9;stroke-dasharray:7 2 2.5 2"/>
<path class="t" d="M715.3 576L715.3 660.5"/>
<path class="k" d="M717.3 600.3Q717.5 606 723 606.6" style="stroke-width:0.8"/>
<circle class="w" cx="704.9" cy="634" r="4.6"/>
<circle class="k" cx="704.9" cy="634" r="2.6" style="fill:#999"/>
<path class="t" d="M699 634L711 634"/>
<path class="t" d="M704.9 628L704.9 640.5"/>
<path class="k" d="M691.2 604L691.2 638" style="stroke-dasharray:3.5 2.5"/>
<path class="f" d="M689.1 608.7L691.3 606.5L693.5 608.7L691.3 610.9Z"/>
<path class="f" d="M689.1 634.1L691.3 631.9L693.5 634.1L691.3 636.3Z"/>
<path class="f" d="M785 630.9L787 628.9L789 630.9L787 632.9Z"/>
<path class="t" d="M782 630.9L792 630.9"/>
<ellipse class="k" cx="747.3" cy="593.3" rx="2.9" ry="8.6" transform="rotate(21.1 747.3 593.3)" style="stroke-width:1.35"/>
<ellipse class="k" cx="752.4" cy="596.4" rx="2.9" ry="9.5" transform="rotate(21.1 752.4 596.4)" style="stroke-width:1.35"/>
<ellipse class="k" cx="757.5" cy="599.4" rx="2.9" ry="10.2" transform="rotate(21.1 757.5 599.4)" style="stroke-width:1.35"/>
<ellipse class="k" cx="762.5" cy="602.5" rx="2.9" ry="10.8" transform="rotate(21.1 762.5 602.5)" style="stroke-width:1.35"/>
<ellipse class="k" cx="767.6" cy="605.5" rx="2.9" ry="11.3" transform="rotate(21.1 767.6 605.5)" style="stroke-width:1.35"/>
<ellipse class="k" cx="772.6" cy="608.6" rx="2.9" ry="11.6" transform="rotate(21.1 772.6 608.6)" style="stroke-width:1.35"/>
<ellipse class="k" cx="777.7" cy="611.7" rx="2.9" ry="11.3" transform="rotate(21.1 777.7 611.7)" style="stroke-width:1.35"/>
<ellipse class="k" cx="782.8" cy="614.7" rx="2.9" ry="10.8" transform="rotate(21.1 782.8 614.7)" style="stroke-width:1.35"/>
<ellipse class="k" cx="787.8" cy="617.8" rx="2.9" ry="10.2" transform="rotate(21.1 787.8 617.8)" style="stroke-width:1.35"/>
<ellipse class="k" cx="792.9" cy="620.8" rx="2.9" ry="9.5" transform="rotate(21.1 792.9 620.8)" style="stroke-width:1.35"/>
<ellipse class="k" cx="798.0" cy="623.9" rx="2.9" ry="8.6" transform="rotate(21.1 798.0 623.9)" style="stroke-width:1.35"/>
<path class="k" d="M732.5 584.4L822.8 638.8" style="stroke:#111;stroke-width:1.1;stroke-dasharray:10 1.5 2.5 1.5"/>
<path class="k" d="M731 580.5Q727 585 729.5 591Q731.5 595.5 736 596.5"/>
<path class="k" d="M728.5 579.5Q724.5 585 727 592" style="stroke-width:0.7"/>
<circle class="w" cx="735.8" cy="586.7" r="4.6"/>
<circle class="w" cx="735.8" cy="586.7" r="2.1"/>
<path class="k" d="M739 582Q744 580.5 747 582Q749.5 583.5 748.5 586"/>
<circle class="w" cx="749.3" cy="583.3" r="1.5"/>
<circle class="w" cx="738" cy="599.8" r="1.5"/>
<circle class="w" cx="741.5" cy="593" r="1.3"/>
<path class="w" d="M800.5 617.5L805 614.5L813.5 624L809 627Z"/>
<path class="k" d="M796 634L801.5 637L803.5 634.5"/>
<circle class="w" cx="798.3" cy="604.1" r="4.8"/>
<circle class="w" cx="798.3" cy="604.1" r="2.1"/>
<path class="t" d="M798.3 598L798.3 610.5"/>
<rect class="w" x="803.2" y="602.7" width="5.5" height="3.2" rx="1"/>
<path class="t" d="M808.7 604.6L822 604.6"/>
<path class="t" d="M806.2 616.7L822 616.7"/>
<path class="k" d="M763.7 591.7L820.5 591.7" style="stroke-width:0.8;stroke-dasharray:3 2"/>
<path class="k" d="M812 624.3L818.5 624.3Q821.5 624.3 821.5 627.5L821.5 641"/>
<circle class="w" cx="809.4" cy="630.8" r="5.6"/>
<circle class="k" cx="809.4" cy="630.8" r="3.2" style="fill:#aaa"/>
<circle class="k" cx="809.4" cy="630.8" r="1.2"/>
<path class="t" d="M802 630.8L817 630.8"/>
<path class="t" d="M809.4 623.5L809.4 638.5"/>
<path class="k" d="M811 631.5L823.5 639.5"/>
<path class="k" style="stroke-width:1.15;stroke-dasharray:3.2 2" d="M725.7 503.3A109.6 109.6 0 0 1 821.6 610.1L821.6 617"/>
<path class="k" d="M744.6 554.6L765.2 518" style="stroke-width:0.85"/>
<path class="f" d="M765.6 517.3L764.5 523.0L761.2 521.2Z"/>
<text x="749.8" y="539.6" text-anchor="middle" transform="rotate(-58.8 749.8 539.6)" style="letter-spacing:0;font-size:14.3px">R277</text>
<path class="t" d="M584.2 491.8L584.2 641.5"/><path class="f" d="M584.2 491.8L585.9 497.0L582.5 497.0Z"/><path class="f" d="M584.2 641.5L582.5 636.3L585.9 636.3Z"/>
<text x="582.6" y="566.7" text-anchor="middle" transform="rotate(-90 582.6 566.7)">355</text>
<path class="t" d="M598.8 506.3L598.8 590.2"/><path class="f" d="M598.8 506.3L600.5 511.5L597.1 511.5Z"/><path class="f" d="M598.8 590.2L597.1 585.0L600.5 585.0Z"/>
<text x="597.2" y="548.6" text-anchor="middle" transform="rotate(-90 597.2 548.6)">240</text>
<path class="t" d="M598.8 590.6L598.8 641.5"/><path class="f" d="M598.8 590.6L600.5 595.8L597.1 595.8Z"/><path class="f" d="M598.8 641.5L597.1 636.3L600.5 636.3Z"/>
<text x="597.2" y="616.2" text-anchor="middle" transform="rotate(-90 597.2 616.2)">88</text>
<path class="t" d="M613 608.7L613 641.5"/><path class="f" d="M613 608.7L614.7 613.9L611.3 613.9Z"/><path class="f" d="M613 641.5L611.3 636.3L614.7 636.3Z"/>
<text x="611.4" y="625.4" text-anchor="middle" transform="rotate(-90 611.4 625.4)">58</text>
<path class="t" d="M620.8 642L620.8 677"/>
<path class="t" d="M821.5 641L821.5 677.5"/>
<path class="t" d="M620.8 660L715.3 660"/><path class="f" d="M620.8 660L626.0 658.3L626.0 661.7Z"/><path class="f" d="M715.3 660L710.1 661.7L710.1 658.3Z"/>
<path class="t" d="M715.3 660L821.3 660"/><path class="f" d="M715.3 660L720.5 658.3L720.5 661.7Z"/><path class="f" d="M821.3 660L816.1 661.7L816.1 658.3Z"/>
<path class="t" d="M620.8 673.9L821.3 673.9"/><path class="f" d="M620.8 673.9L626.0 672.2L626.0 675.6Z"/><path class="f" d="M821.3 673.9L816.1 675.6L816.1 672.2Z"/>
<text x="668.8" y="658.2" text-anchor="middle">110</text>
<text x="768" y="658.2" text-anchor="middle">173</text>
<text x="720" y="672.6" text-anchor="middle">327</text>
<path class="t" d="M842.8 566.5L842.8 642.5"/><path class="f" d="M842.8 566.5L844.5 571.7L841.1 571.7Z"/><path class="f" d="M842.8 642.5L841.1 637.3L844.5 637.3Z"/>
<text x="841.6" y="606.7" text-anchor="middle" transform="rotate(-90 841.6 606.7)">230</text>
<path class="k" d="M102 846L102 1052" style="stroke-width:1;stroke-dasharray:8 3.7 3 3.7"/>
<path class="k" d="M159.5 884L159.5 1034" style="stroke-width:1;stroke-dasharray:8 3.7 3 3.7"/>
<path class="k" d="M229.5 884L229.5 1034" style="stroke-width:1;stroke-dasharray:8 3.7 3 3.7"/>
<path class="k" d="M287.5 884L287.5 1034" style="stroke-width:1;stroke-dasharray:8 3.7 3 3.7"/>
<path class="k" d="M356.2 884L356.2 1034" style="stroke-width:1;stroke-dasharray:8 3.7 3 3.7"/>
<path class="k" d="M414.5 846L414.5 1052" style="stroke-width:1;stroke-dasharray:8 3.7 3 3.7"/>
<path class="k" d="M102 892.6L436 897" style="stroke-width:1;stroke-dasharray:8 3.7 3 3.7"/>
<path class="k" d="M63.7 913.2L449 916.6" style="stroke-width:1;stroke-dasharray:8 3.7 3 3.7"/>
<path class="k" d="M96 993.7L436 993.7" style="stroke-width:1;stroke-dasharray:8 3.7 3 3.7"/>
<path class="k" d="M63.7 1009.2L436 1009.2" style="stroke-width:1;stroke-dasharray:8 3.7 3 3.7"/>
<ellipse class="w" cx="102" cy="892.3" rx="6.2" ry="4.1"/><path class="t" d="M99 892.3L105 892.3"/>
<ellipse class="w" cx="102" cy="993.7" rx="6.2" ry="4.1"/><path class="t" d="M99 993.7L105 993.7"/>
<ellipse class="w" cx="102" cy="1009.2" rx="6.2" ry="4.1"/><path class="t" d="M99 1009.2L105 1009.2"/>
<ellipse class="w" cx="159.5" cy="892.3" rx="6.2" ry="4.1"/><path class="t" d="M156.5 892.3L162.5 892.3"/>
<ellipse class="w" cx="159.5" cy="993.7" rx="6.2" ry="4.1"/><path class="t" d="M156.5 993.7L162.5 993.7"/>
<ellipse class="w" cx="159.5" cy="1009.2" rx="6.2" ry="4.1"/><path class="t" d="M156.5 1009.2L162.5 1009.2"/>
<ellipse class="w" cx="229.5" cy="892.3" rx="6.2" ry="4.1"/><path class="t" d="M226.5 892.3L232.5 892.3"/>
<ellipse class="w" cx="229.5" cy="993.7" rx="6.2" ry="4.1"/><path class="t" d="M226.5 993.7L232.5 993.7"/>
<ellipse class="w" cx="229.5" cy="1009.2" rx="6.2" ry="4.1"/><path class="t" d="M226.5 1009.2L232.5 1009.2"/>
<ellipse class="w" cx="287.5" cy="892.3" rx="6.2" ry="4.1"/><path class="t" d="M284.5 892.3L290.5 892.3"/>
<ellipse class="w" cx="287.5" cy="993.7" rx="6.2" ry="4.1"/><path class="t" d="M284.5 993.7L290.5 993.7"/>
<ellipse class="w" cx="287.5" cy="1009.2" rx="6.2" ry="4.1"/><path class="t" d="M284.5 1009.2L290.5 1009.2"/>
<ellipse class="w" cx="356.2" cy="892.3" rx="6.2" ry="4.1"/><path class="t" d="M353.2 892.3L359.2 892.3"/>
<ellipse class="w" cx="356.2" cy="993.7" rx="6.2" ry="4.1"/><path class="t" d="M353.2 993.7L359.2 993.7"/>
<ellipse class="w" cx="356.2" cy="1009.2" rx="6.2" ry="4.1"/><path class="t" d="M353.2 1009.2L359.2 1009.2"/>
<ellipse class="w" cx="414.5" cy="892.3" rx="6.2" ry="4.1"/><path class="t" d="M411.5 892.3L417.5 892.3"/>
<ellipse class="w" cx="414.5" cy="993.7" rx="6.2" ry="4.1"/><path class="t" d="M411.5 993.7L417.5 993.7"/>
<ellipse class="w" cx="414.5" cy="1009.2" rx="6.2" ry="4.1"/><path class="t" d="M411.5 1009.2L417.5 1009.2"/>
<ellipse class="w" cx="102" cy="852" rx="6.2" ry="4.1"/><path class="t" d="M99 852L105 852"/>
<ellipse class="w" cx="414.5" cy="852" rx="6.2" ry="4.1"/><path class="t" d="M411.5 852L417.5 852"/>
<path class="t" d="M93.5 852L111 852"/>
<path class="t" d="M407 852L438 852"/>
<path class="t" d="M63.7 913.5L63.7 1009"/><path class="f" d="M63.7 913.5L65.4 918.7L62.0 918.7Z"/><path class="f" d="M63.7 1009L62.0 1003.8L65.4 1003.8Z"/>
<text x="64.4" y="961.3" text-anchor="middle" transform="rotate(-90 64.4 961.3)">160</text>
<path class="t" d="M102 1034.9L159.5 1034.9"/><path class="f" d="M102 1034.9L107.2 1033.2L107.2 1036.6Z"/><path class="f" d="M159.5 1034.9L154.3 1036.6L154.3 1033.2Z"/>
<text x="130.8" y="1034" text-anchor="middle">96</text>
<path class="t" d="M229.5 1034.9L287.5 1034.9"/><path class="f" d="M229.5 1034.9L234.7 1033.2L234.7 1036.6Z"/><path class="f" d="M287.5 1034.9L282.3 1036.6L282.3 1033.2Z"/>
<text x="258.5" y="1034" text-anchor="middle">96</text>
<path class="t" d="M356.2 1034.9L414.5 1034.9"/><path class="f" d="M356.2 1034.9L361.4 1033.2L361.4 1036.6Z"/><path class="f" d="M414.5 1034.9L409.3 1036.6L409.3 1033.2Z"/>
<text x="385.4" y="1034" text-anchor="middle">96</text>
<path class="t" d="M102 1050.6L414.5 1050.6"/><path class="f" d="M102 1050.6L107.2 1048.9L107.2 1052.3Z"/><path class="f" d="M414.5 1050.6L409.3 1052.3L409.3 1048.9Z"/>
<text x="256.5" y="1049.6" text-anchor="middle">646</text>
<path class="t" d="M435 852L435 1031"/>
<path class="f" d="M435 852L436.7 857.2L433.3 857.2Z"/>
<path class="f" d="M435 896.6L433.3 891.4L436.7 891.4Z"/>
<path class="f" d="M435 897.4L436.7 902.6L433.3 902.6Z"/>
<path class="f" d="M435 993.5L433.3 988.3L436.7 988.3Z"/>
<path class="f" d="M435 1009.4L436.7 1014.6L433.3 1014.6Z"/>
<text x="434" y="874.6" text-anchor="middle" transform="rotate(-90 434 874.6)">70</text>
<text x="434" y="945.6" text-anchor="middle" transform="rotate(-90 434 945.6)">170</text>
<text x="451.2" y="1001.2" text-anchor="middle" transform="rotate(-90 451.2 1001.2)">25</text>
<text x="176.3" y="873" text-anchor="start" style="letter-spacing:0.2px;word-spacing:-1.3px">20−9 × 19</text>
<path class="t" d="M176.2 876.3L240 876.3L282.5 892"/>
<text x="314.3" y="936.6" text-anchor="start" style="font-size:10.3px;letter-spacing:0.4px;font-weight:500">主轴</text>
<path class="t" d="M314.5 940L347.5 940L374.2 916.7"/>
<path class="w" d="M609.3 881.8L628 882.3Q641.4 883 641.6 896L641.6 938Q641.6 949 621 953.5L609.3 954"/>
<path class="k" d="M618.8 954L618.8 886.5L622 886.5Q630.5 892 630.8 899L630.8 938Q630.5 946 621 950"/>
<path class="k" d="M624 884.5Q635.5 886 636 897L636 936"/>
<rect class="w" x="620.3" y="892.7" width="6.2" height="14.9"/>
<rect class="w" x="620.3" y="928.8" width="6.2" height="15.8"/>
<path class="t" d="M618.8 896L626.5 896"/>
<path class="t" d="M618.8 904.5L626.5 904.5"/>
<path class="t" d="M618.8 932L626.5 932"/>
<path class="t" d="M618.8 941L626.5 941"/>
<rect class="w" x="600.2" y="877.6" width="9.1" height="76.7"/>
<path class="w" d="M600.2 895.1L597.5 895.1Q590.6 896.8 590.6 900.3Q590.6 903.8 597.5 905.5L600.2 905.5Z"/>
<path class="t" d="M596.8 895.3L596.8 905.3"/>
<path class="k" d="M588 900.3L636 900.3" style="stroke-width:0.8;stroke-dasharray:8 3 3 3"/>
<path class="w" d="M600.2 930.3L597.5 930.3Q590.6 932 590.6 935.5Q590.6 939 597.5 940.7L600.2 940.7Z"/>
<path class="t" d="M596.8 930.5L596.8 940.5"/>
<path class="k" d="M588 935.5L636 935.5" style="stroke-width:0.8;stroke-dasharray:8 3 3 3"/>
<path class="w" d="M609.3 954.3L617.6 969.5L617.6 1026.2L630.7 1026.2L630.7 966.5L620.8 953.3"/>
<path class="k" d="M608.9 983.3L632 983.3"/>
<path class="k" d="M608.9 1017.4L632 1017.4"/>
<text x="538.6" y="954.2" text-anchor="start" style="font-size:13.3px;letter-spacing:0.3px;font-weight:500">母线</text>
<path class="t" d="M541.8 957.9L568.7 957.9L598.9 943"/>
<text x="525.6" y="989.4" text-anchor="start" style="font-size:13.3px;letter-spacing:0.3px;font-weight:500">静触头</text>
<path class="t" d="M526.4 992.6L567.8 992.6L617.3 969"/>
<path class="w" d="M736.5 996.5L736.5 884.7L788.9 884.7L788.9 996.5"/>
<path class="k" d="M736.5 969Q748 961.5 762.6 967.5Q777 973.5 788.9 967"/>
<path class="t" d="M701.6 884.7L736.5 884.7"/>
<path class="t" d="M701.6 902.2L796.5 902.2"/>
<path class="k" d="M746.4 863.5L746.4 948" style="stroke-width:0.8;stroke-dasharray:26 3 5 3"/>
<circle class="w" cx="746.4" cy="902.6" r="6.5"/>
<circle class="w" cx="746.4" cy="938.1" r="6.5"/>
<path class="k" d="M746.4 863.5L746.4 948" style="stroke-width:0.8;stroke-dasharray:26 3 5 3;stroke-dashoffset:-33"/>
<path class="k" d="M779.2 863.5L779.2 948" style="stroke-width:0.8;stroke-dasharray:26 3 5 3"/>
<circle class="w" cx="779.2" cy="902.6" r="6.5"/>
<circle class="w" cx="779.2" cy="938.1" r="6.5"/>
<path class="k" d="M779.2 863.5L779.2 948" style="stroke-width:0.8;stroke-dasharray:26 3 5 3;stroke-dashoffset:-33"/>
<path class="k" d="M762.6 880L762.6 972" style="stroke-width:0.85;stroke-dasharray:16 4 4 4"/>
<path class="t" d="M746.4 866.5L779.2 866.5"/><path class="f" d="M746.4 866.5L751.6 864.8L751.6 868.2Z"/><path class="f" d="M779.2 866.5L774.0 868.2L774.0 864.8Z"/>
<text x="762.5" y="864.7" text-anchor="middle">40</text>
<path class="t" d="M703.3 865.5L703.3 938"/>
<path class="f" d="M703.3 884.5L701.6 879.3L705.0 879.3Z"/>
<path class="f" d="M703.3 902.4L705.0 907.6L701.6 907.6Z"/>
<path class="f" d="M703.3 938.3L701.6 933.1L705.0 933.1Z"/>
<text x="699.6" y="892.4" text-anchor="middle" transform="rotate(-90 699.6 892.4)">20</text>
<text x="703.2" y="920.6" text-anchor="middle" transform="rotate(-90 703.2 920.6)">40</text>
<path class="t" d="M736.5 995L788.9 995"/><path class="f" d="M736.5 995L741.7 993.3L741.7 996.7Z"/><path class="f" d="M788.9 995L783.7 996.7L783.7 993.3Z"/>
<text x="762.4" y="994.6" text-anchor="middle">60</text>
<text x="812" y="867.4" text-anchor="start" style="letter-spacing:0px;word-spacing:-2.4px">4− ϕ 11</text>
<path class="t" d="M853.6 871.3L813.7 871.3L762 919.8"/>
<path class="f" d="M784.2 899L786.3 894.7L788.7 897.2Z"/>
<path class="f" d="M773 908L770.9 912.3L768.5 909.8Z"/>
</svg>
</div>
</body>
</html>
